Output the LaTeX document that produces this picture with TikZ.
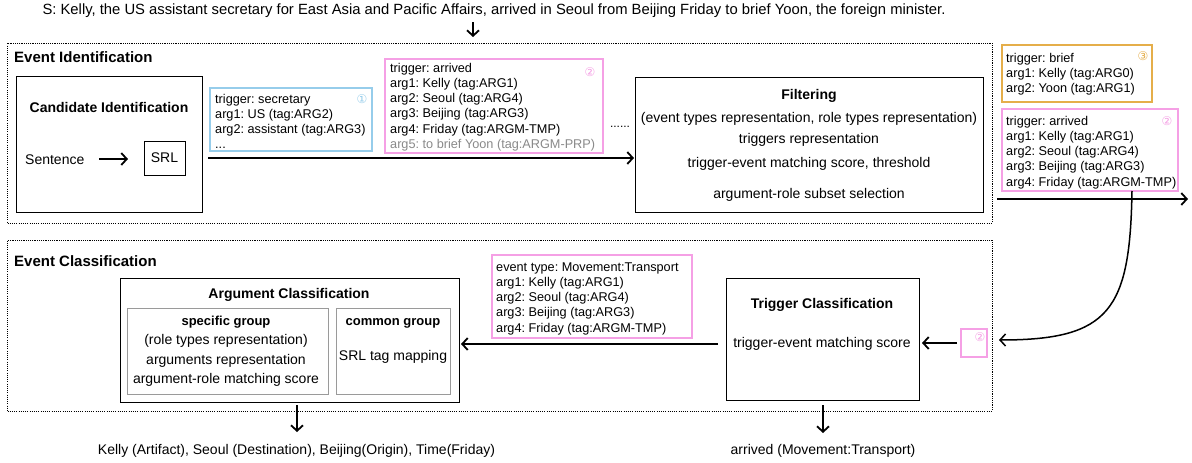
\documentclass[tikz,border=0pt]{standalone}
\usepackage{fontspec}
\setmainfont{Liberation Sans}
\newfontfamily\circfont{DejaVu Sans}
\usetikzlibrary{arrows.meta}
\definecolor{cblue}{HTML}{96CDEB}
\definecolor{cpink}{HTML}{F5A0E5}
\definecolor{corange}{HTML}{E5AE4A}
\definecolor{cgraytxt}{HTML}{8A8A8A}
\definecolor{cgrayline}{HTML}{9A9A9A}
\newcommand\fsz[2]{\fontsize{#1}{#2}\selectfont}
\frenchspacing
\begin{document}
\begin{tikzpicture}[x=1pt,y=-1pt,
  bx/.style={draw, line width=0.9pt, inner sep=0pt, outer sep=0pt, anchor=north west},
  dbox/.style={draw, line width=0.8pt, dash pattern=on 1.1pt off 1.1pt, inner sep=0pt, outer sep=0pt, anchor=north west},
  gbox/.style={draw=cgrayline, line width=0.7pt, inner sep=0pt, outer sep=0pt, anchor=north west},
  tagbox/.style={draw=#1, line width=1.15pt, inner sep=0pt, outer sep=0pt, anchor=north west},
  tagtxt/.style={font=\frenchspacing\fsz{12.7}{15.2}, align=left, anchor=north west, inner sep=0pt},
  circ/.style={font=\circfont\fsz{12}{14}, text=#1, inner sep=0pt},
  head/.style={font=\fsz{15}{18}\bfseries, anchor=base west, inner sep=0pt},
  sub/.style={font=\fsz{14}{17}\bfseries, anchor=base, inner sep=0pt},
  body/.style={font=\frenchspacing\fsz{14}{17}, anchor=base, inner sep=0pt},
  arr/.style={line width=1.8pt, -{Straight Barb[length=5.5pt,width=12pt]}},
  arrc/.style={line width=1.5pt, -{Straight Barb[length=5.5pt,width=12pt]}}
]
\fill[white] (0,0) rectangle (1192,463);
\useasboundingbox (0,0) rectangle (1192,463);

% title sentence
\node[font=\frenchspacing\fsz{14.8}{17}, anchor=base, inner sep=0pt] (title) at (494,15)
  {S: Kelly, the US assistant secretary for East Asia and Pacific Affairs, arrived in Seoul from Beijing Friday to brief Yoon, the foreign minister.};
\coordinate (ta) at (473,22);
\coordinate (tb) at (473,37);
\draw[arr] (ta) -- (tb);

% ---------------- Event Identification ----------------
\node[dbox, minimum width=984.5, minimum height=180] (eid) at (7.5,43) {};
\node[head] (eidt) at (14,62.5) {Event Identification};

\node[bx, minimum width=186, minimum height=136] (cand) at (16,76) {};
\node[sub] (candt) at (109,112) {Candidate Identification};
\node[body, anchor=base west] (sent) at (25,164) {Sentence};
\node[draw, line width=0.9pt, inner sep=0pt, minimum width=41, minimum height=34, font=\fsz{14}{17}] (srl) at (164.5,158) {SRL};
\coordinate (sa) at (99,159);
\coordinate (sb) at (128,159);
\draw[arr] (sa) -- (sb);

% blue tag box
\node[tagbox=cblue, minimum width=162, minimum height=63] (blue) at (210,88) {};
\node[tagtxt] (bluet) at (215,93.6) {\rule{0pt}{9.4pt}trigger: secretary\\arg1: US (tag:ARG2)\\arg2: assistant (tag:ARG3)\\...};
\node[circ=cblue] (one) at (362,99) {①};

% pink tag box 1
\node[tagbox=cpink, minimum width=218, minimum height=94] (pink1) at (385,59) {};
\node[tagtxt] (p1t) at (390,62.6) {\rule{0pt}{9.4pt}trigger: arrived\\arg1: Kelly (tag:ARG1)\\arg2: Seoul (tag:ARG4)\\arg3: Beijing (tag:ARG3)\\arg4: Friday (tag:ARGM-TMP)\\\textcolor{cgraytxt}{arg5: to brief Yoon (tag:ARGM-PRP)}};
\node[circ=cpink] (two) at (590,72) {②};

\node[font=\fsz{12}{14}, anchor=base, inner sep=0pt] (dots) at (620,127) {......};

% filtering
\node[bx, minimum width=348, minimum height=135] (filt) at (635,77) {};
\node[sub] (filt1) at (809,99) {Filtering};
\node[body] (filt2) at (809,122) {(event types representation, role types representation)};
\node[body] (filt3) at (809,143) {triggers representation};
\node[body] (filt4) at (809,167) {trigger-event matching score, threshold};
\node[body] (filt5) at (809,198) {argument-role subset selection};

\coordinate (la) at (208,158);
\coordinate (lb) at (634,158);
\draw[arr] (la) -- (lb);

% right side tag boxes
\node[tagbox=corange, minimum width=150, minimum height=57] (orange) at (1002,45) {};
\node[tagtxt] (ort) at (1006,52.6) {\rule{0pt}{9.4pt}trigger: brief\\arg1: Kelly (tag:ARG0)\\arg2: Yoon (tag:ARG1)};
\node[circ=corange] (three) at (1143,56) {③};

\node[tagbox=cpink, minimum width=176, minimum height=82] (pink2) at (1002,109) {};
\node[tagtxt] (p2t) at (1006,115.6) {\rule{0pt}{9.4pt}trigger: arrived\\arg1: Kelly (tag:ARG1)\\arg2: Seoul (tag:ARG4)\\arg3: Beijing (tag:ARG3)\\arg4: Friday (tag:ARGM-TMP)};
\node[circ=cpink] (two2) at (1167,121) {②};

\coordinate (ra) at (997,199);
\coordinate (rb) at (1188,199);
\draw[arr] (ra) -- (rb);

% ---------------- Event Classification ----------------
\node[dbox, minimum width=984.5, minimum height=171] (ecl) at (7.5,240) {};
\node[head] (eclt) at (14,266) {Event Classification};

\node[bx, minimum width=339, minimum height=124] (argc) at (120,278) {};
\node[sub] (argct) at (289,298) {Argument Classification};
\node[gbox, minimum width=201, minimum height=86] (spec) at (127,308) {};
\node[gbox, minimum width=114, minimum height=86] (comm) at (336,308) {};
\node[sub, font=\fsz{13}{16}\bfseries] (spec1) at (226,325) {specific group};
\node[body] (spec2) at (226,344) {(role types representation)};
\node[body] (spec3) at (226,364) {arguments representation};
\node[body] (spec4) at (226,383) {argument-role matching score};
\node[sub, font=\fsz{13}{16}\bfseries] (comm1) at (393,325) {common group};
\node[body] (comm2) at (393,360) {SRL tag mapping};

% pink tag box 3
\node[tagbox=cpink, minimum width=200, minimum height=83] (pink3) at (492,255) {};
\node[tagtxt] (p3t) at (496,261.6) {\rule{0pt}{9.4pt}event type: Movement:Transport\\arg1: Kelly (tag:ARG1)\\arg2: Seoul (tag:ARG4)\\arg3: Beijing (tag:ARG3)\\arg4: Friday (tag:ARGM-TMP)};

% trigger classification
\node[bx, minimum width=193, minimum height=122] (trig) at (726,278) {};
\node[sub] (trigt) at (822,308) {Trigger Classification};
\node[body] (trigs) at (822,347.5) {trigger-event matching score};

\node[tagbox=cpink, minimum width=26, minimum height=28] (pinks) at (961,329) {};
\node[circ=cpink] (two3) at (980,337) {②};

% connectors
\coordinate (cs) at (1132,191);
\coordinate (ce) at (999,340);
\draw[arrc] (cs) .. controls (1130,310) and (1110,340) .. (ce);

\coordinate (pa) at (957,343);
\coordinate (pb) at (922,343);
\draw[arr] (pa) -- (pb);

\coordinate (ma) at (718,344);
\coordinate (mb) at (461,344);
\draw[arr] (ma) -- (mb);

% outputs
\coordinate (oa1) at (297,405);
\coordinate (ob1) at (297,432);
\draw[arr] (oa1) -- (ob1);
\node[body] (out1) at (296.5,454) {Kelly (Artifact), Seoul (Destination), Beijing(Origin), Time(Friday)};

\coordinate (oa2) at (823,405);
\coordinate (ob2) at (823,433);
\draw[arr] (oa2) -- (ob2);
\node[body] (out2) at (823,454) {arrived (Movement:Transport)};
\end{tikzpicture}
\end{document}
